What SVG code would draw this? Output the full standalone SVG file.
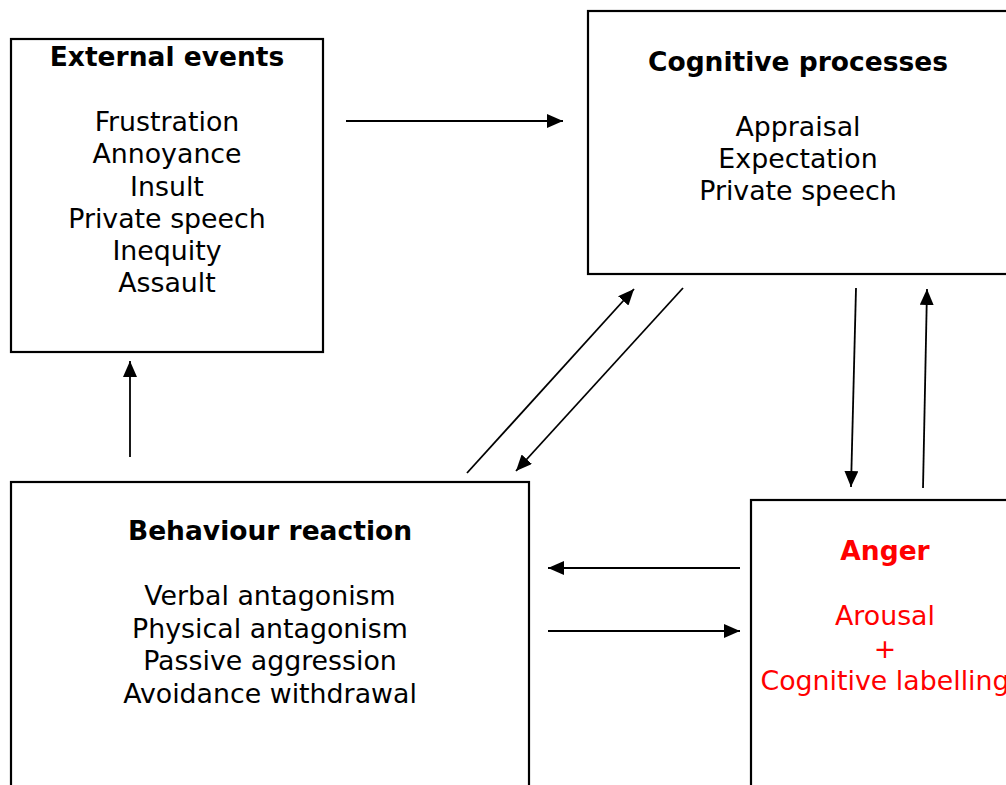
<svg xmlns="http://www.w3.org/2000/svg" width="1006" height="785" viewBox="0 0 1006 785">
<style>
.box{fill:#fff;stroke:#000;stroke-width:2.2}
.t{font-family:"DejaVu Sans",Verdana,sans-serif;font-size:26.8px;text-anchor:middle;fill:#000}
.h{font-family:"DejaVu Sans",Verdana,sans-serif;font-size:26.5px;font-weight:bold;text-anchor:middle;fill:#000}
.red{fill:#ff0000}
.c{stroke:#000;stroke-width:1.8;fill:none;marker-end:url(#ah)}
</style>
<defs>
<marker id="ah" viewBox="0 0 16 14" refX="16" refY="7" markerWidth="16" markerHeight="14" markerUnits="userSpaceOnUse" orient="auto">
<path d="M0,0 L16,7 L0,14 z" fill="#000"/>
</marker>
</defs>
<rect width="1006" height="785" fill="#fff"/>
<g id="external">
<rect class="box" x="11" y="39" width="312" height="313"/>
<text class="h" x="167" y="66">External events</text>
<text class="t" x="167" y="131">Frustration</text>
<text class="t" x="167" y="163">Annoyance</text>
<text class="t" x="167" y="196">Insult</text>
<text class="t" x="167" y="228">Private speech</text>
<text class="t" x="167" y="260">Inequity</text>
<text class="t" x="167" y="292">Assault</text>
</g>
<g id="cognitive">
<rect class="box" x="588" y="11" width="430" height="263"/>
<text class="h" x="798" y="71">Cognitive processes</text>
<text class="t" x="798" y="136">Appraisal</text>
<text class="t" x="798" y="168">Expectation</text>
<text class="t" x="798" y="200">Private speech</text>
</g>
<g id="behaviour">
<rect class="box" x="11" y="482" width="518" height="320"/>
<text class="h" x="270" y="540">Behaviour reaction</text>
<text class="t" x="270" y="605">Verbal antagonism</text>
<text class="t" x="270" y="638">Physical antagonism</text>
<text class="t" x="270" y="670">Passive aggression</text>
<text class="t" x="270" y="703">Avoidance withdrawal</text>
</g>
<g id="anger">
<rect class="box" x="751" y="500" width="270" height="300"/>
<text class="h red" x="885" y="560">Anger</text>
<text class="t red" x="885" y="625">Arousal</text>
<text class="t red" x="885" y="658">+</text>
<text class="t red" x="885" y="690">Cognitive labelling</text>
</g>
<g id="connectors">
<line class="c" x1="346" y1="121" x2="563" y2="121"/>
<line class="c" x1="130" y1="457" x2="130" y2="361"/>
<line class="c" x1="467" y1="473" x2="634" y2="289"/>
<line class="c" x1="683" y1="288" x2="516" y2="471"/>
<line class="c" x1="856" y1="288" x2="851" y2="487"/>
<line class="c" x1="923" y1="488" x2="927" y2="289"/>
<line class="c" x1="740" y1="568" x2="548" y2="568"/>
<line class="c" x1="548" y1="631" x2="740" y2="631"/>
</g>
</svg>
